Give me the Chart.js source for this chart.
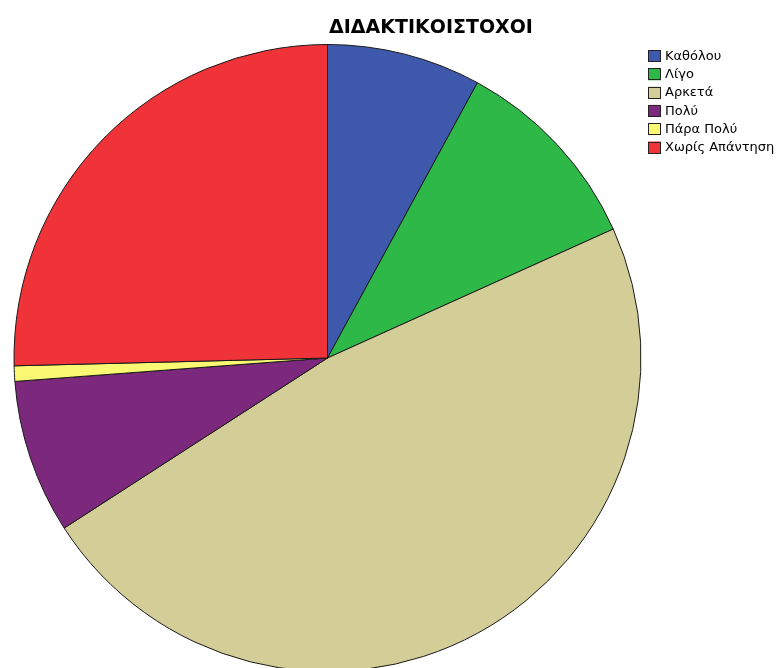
<!DOCTYPE html>
<html>
<head>
<meta charset="utf-8">
<script src="https://cdn.jsdelivr.net/npm/chart.js@4"></script>
<style>
  html, body { margin: 0; padding: 0; background: #fff; overflow: hidden; }
  #wrap { position: relative; width: 779px; height: 668px; overflow: hidden; }
</style>
</head>
<body>
<div id="wrap">
  <canvas id="pita" width="779" height="690"></canvas>
</div>
<script>
// ====== DADOS ======
const titulo = 'ΔΙΔΑΚΤΙΚΟΙΣΤΟΧΟΙ';
const categorias = ['Καθόλου', 'Λίγο', 'Αρκετά', 'Πολύ', 'Πάρα Πολύ', 'Χωρίς Απάντηση'];
const valores = [10, 13, 60, 10, 1, 32];
const cores = ['#3e58ac', '#2eb848', '#d3ce97', '#7c287d', '#fbf873', '#ef3338'];

// ====== TITULO + LEGENDA ======
const extras = {
  id: 'extras',
  afterDraw(chart) {
    const c = chart.ctx;
    c.save();
    c.fillStyle = '#000';
    c.font = 'bold 19px "DejaVu Sans", sans-serif';
    c.textAlign = 'center';
    c.textBaseline = 'middle';
    c.fillText(titulo, 431, 28);

    c.font = '13px "DejaVu Sans", sans-serif';
    c.textAlign = 'left';
    categorias.forEach((cat, i) => {
      const y = 56 + i * 18.3;
      c.fillStyle = cores[i];
      c.fillRect(648, y - 6, 13, 12);
      c.strokeStyle = '#222';
      c.lineWidth = 1;
      c.strokeRect(648.5, Math.round(y - 6) + 0.5, 12, 11);
      c.fillStyle = '#000';
      c.fillText(cat, 665, y + 0.5);
    });
    c.restore();
  }
};

// ====== GRAFICO ======
new Chart(document.getElementById('pita').getContext('2d'), {
  type: 'pie',
  data: {
    labels: categorias,
    datasets: [{
      data: valores,
      backgroundColor: cores,
      borderColor: '#1a1a1a',
      borderWidth: 1,
    }],
  },
  options: {
    responsive: false,
    animation: false,
    layout: { padding: { left: 13, top: 44, right: 137, bottom: 18 } },
    plugins: {
      legend: { display: false },
      title: { display: false },
      tooltip: { enabled: false },
    },
  },
  plugins: [extras],
});
</script>
</body>
</html>
